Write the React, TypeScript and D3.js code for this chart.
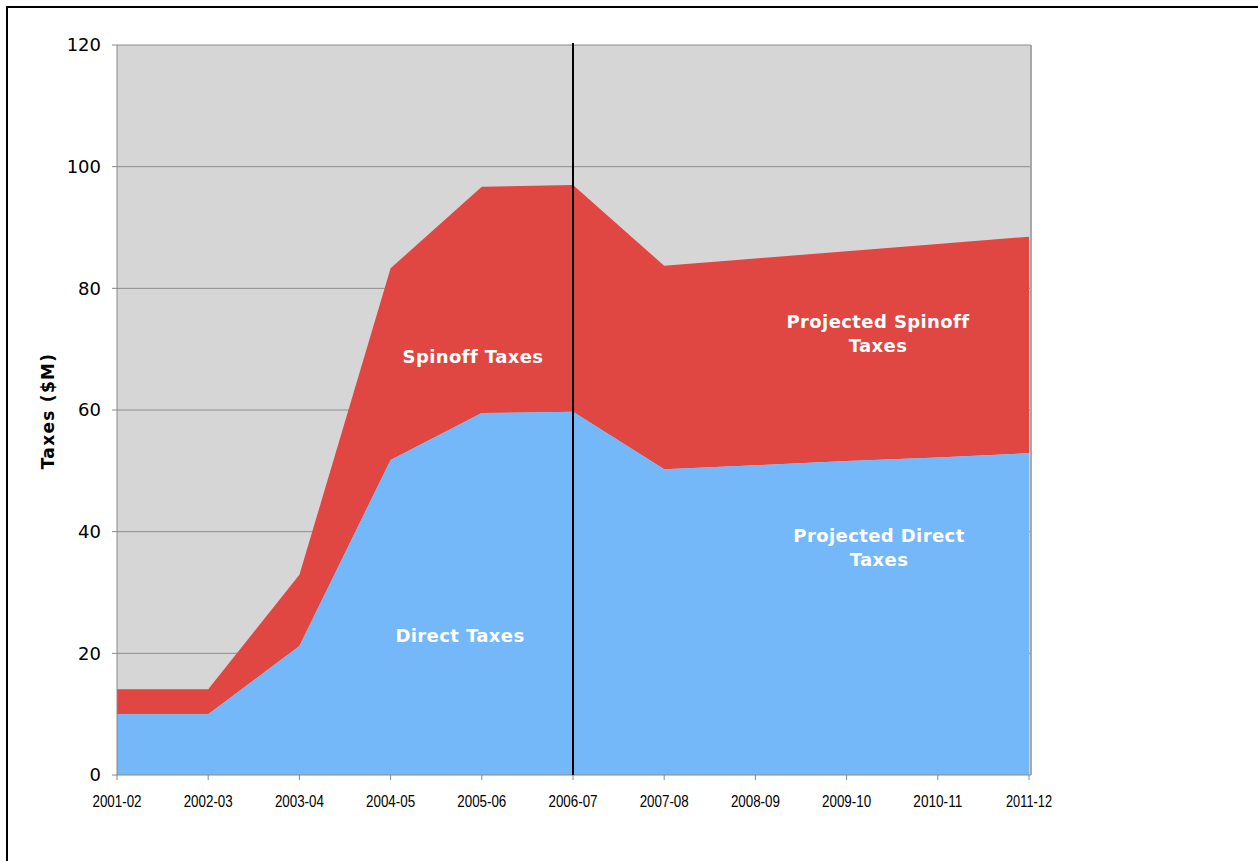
import React from "react";
import * as d3 from "d3";

const categories = ["2001-02","2002-03","2003-04","2004-05","2005-06","2006-07","2007-08","2008-09","2009-10","2010-11","2011-12"];
const directTaxes = [10.0, 10.0, 21.2, 51.8, 59.5, 59.7, 50.25, 50.9, 51.6, 52.2, 52.9];
const spinoffTaxes = [4.1, 4.1, 11.7, 31.5, 37.2, 37.3, 33.45, 34.0, 34.5, 35.1, 35.6];
const yTicks = [0, 20, 40, 60, 80, 100, 120];
const divider = "2006-07";

const W = 1258, H = 861;
const left = 117, right = 1031, top = 45, bottom = 775;

export default function App() {
  const x = d3.scalePoint<string>().domain(categories).range([left, right - 2]);
  const y = d3.scaleLinear().domain([0, 120]).range([bottom, top]);
  const rows = categories.map((c, i) => ({ c, d: directTaxes[i], t: directTaxes[i] + spinoffTaxes[i] }));
  const directArea = d3.area<any>().x(r => x(r.c)!).y0(y(0)).y1(r => y(r.d))(rows)!;
  const spinArea = d3.area<any>().x(r => x(r.c)!).y0(r => y(r.d)).y1(r => y(r.t))(rows)!;
  const lab = { fill: "#fff", fontFamily: "'DejaVu Sans', Verdana, sans-serif", fontWeight: 700, fontSize: 18, letterSpacing: 0.4, textAnchor: "middle" as const };
  return (
    <svg width={W} height={H} style={{ position: "absolute", left: 0, top: 0 }}>
      <rect x={0} y={0} width={W} height={H} fill="#fff" />
      <rect x={7} y={7} width={1400} height={1000} fill="none" stroke="#000" strokeWidth={2} />
      <rect x={left} y={top} width={right - left} height={bottom - top} fill="#d6d6d6" />
      {yTicks.filter(t => t > 0).map(t => (
        <line key={t} x1={left} x2={right} y1={y(t)} y2={y(t)} stroke="#8c8c8c" strokeWidth={1} />
      ))}
      <path d={spinArea} fill="#e04642" />
      <path d={directArea} fill="#74b8f9" />
      <line x1={right} x2={right} y1={top} y2={bottom} stroke="#a8a8a8" strokeWidth={2} />
      <line x1={left} x2={left} y1={top} y2={bottom} stroke="#888" strokeWidth={1} />
      <line x1={left} x2={right} y1={bottom} y2={bottom} stroke="#888" strokeWidth={1} />
      {yTicks.map(t => (
        <g key={t}>
          <line x1={left - 5} x2={left} y1={y(t)} y2={y(t)} stroke="#888" />
          <text x={101} y={y(t)} dy="0.35em" textAnchor="end" fontFamily="'DejaVu Sans', Verdana, sans-serif" fontSize={18} fill="#000">{t}</text>
        </g>
      ))}
      {categories.map(c => (
        <g key={c}>
          <line x1={x(c)!} x2={x(c)!} y1={bottom} y2={bottom + 5} stroke="#888" />
          <text x={x(c)!} y={807} textAnchor="middle" fontFamily="'Liberation Sans', Arial, sans-serif" fontSize={16} textLength={c === "2011-12" ? 46 : 49} lengthAdjust="spacingAndGlyphs" fill="#000">{c}</text>
        </g>
      ))}
      <line x1={x(divider)!} x2={x(divider)!} y1={43} y2={bottom} stroke="#000" strokeWidth={2} />
      <text transform={`translate(54,411) rotate(-90)`} textAnchor="middle" fontFamily="'DejaVu Sans', Verdana, sans-serif" fontWeight={700} fontSize={17} letterSpacing={1.3} fill="#000">Taxes ($M)</text>
      <text x={473} y={363} {...lab}>Spinoff Taxes</text>
      <text x={460} y={642} {...lab}>Direct Taxes</text>
      <text x={878} y={328} {...lab}>Projected Spinoff</text>
      <text x={878} y={352} {...lab}>Taxes</text>
      <text x={879} y={542} {...lab}>Projected Direct</text>
      <text x={879} y={566} {...lab}>Taxes</text>
    </svg>
  );
}
